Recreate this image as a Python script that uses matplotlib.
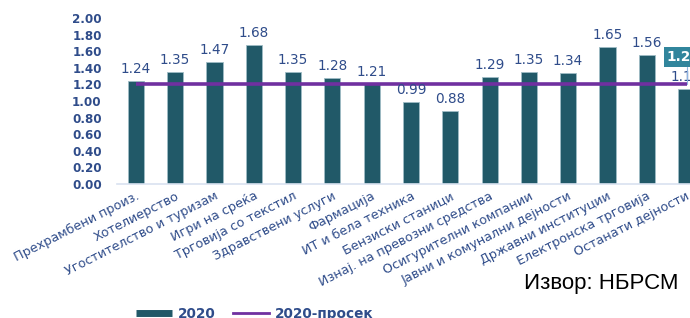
import numpy as np
import matplotlib
matplotlib.use("Agg")
import matplotlib.pyplot as plt
from matplotlib.lines import Line2D

categories = [
    "Прехрамбени произ.", "Хотелиерство", "Угостителство и туризам",
    "Игри на среќа", "Трговија со текстил", "Здравствени услуги",
    "Фармација", "ИТ и бела техника", "Бензиски станици",
    "Изнај. на превозни средства", "Осигурителни компании",
    "Јавни и комунални дејности", "Државни институции",
    "Електронска трговија", "Останати дејности",
]
values_2020 = [1.24, 1.35, 1.47, 1.68, 1.35, 1.28, 1.21, 0.99, 0.88,
               1.29, 1.35, 1.34, 1.65, 1.56, 1.15]
avg_2020 = 1.21
yticks = [0.0, 0.2, 0.4, 0.6, 0.8, 1.0, 1.2, 1.4, 1.6, 1.8, 2.0]

bar_color = "#215968"
avg_color = "#7030A0"
text_blue = "#2F4C8A"

W, H = 690, 318
fig = plt.figure(figsize=(W / 100, H / 100), dpi=100)
ax = fig.add_axes([117 / W, 1 - 184 / H, 1 - 117 / W, (184 - 18) / H])

x = np.arange(len(categories))
ax.bar(x, values_2020, width=0.41, color=bar_color,
       edgecolor="#9fbcc6", linewidth=0.6, zorder=2)
ax.plot([x[0], x[-1] + 0.03], [avg_2020, avg_2020], color=avg_color,
        lw=2.6, zorder=3, solid_capstyle="butt")

for xi, v in zip(x, values_2020):
    ax.text(xi, v + 0.06, f"{v:.2f}", ha="center", va="bottom",
            fontsize=9.8, color=text_blue, zorder=4)

# callout for the average value (cut off at the right edge)
ax.annotate(f"{avg_2020:.2f}", xy=(x[-1] + 0.03, avg_2020),
            xytext=(x[-1] - 0.5, 1.53), textcoords="data",
            ha="left", va="center", fontsize=9.8, fontweight="bold",
            color="white", annotation_clip=False,
            bbox=dict(boxstyle="square,pad=0.2", fc="#31859C", ec="none"),
            arrowprops=dict(arrowstyle="-", color="#8db3e2", lw=0.8,
                            shrinkA=0, shrinkB=0,
                            connectionstyle="angle,angleA=0,angleB=90"),
            zorder=5)

ax.set_xlim(-0.48, 14.1)
ax.set_ylim(0, 2.0)
ax.set_yticks(yticks)
ax.set_yticklabels([f"{t:.2f}" for t in yticks], fontsize=8.6,
                   fontweight="bold", color=text_blue)
ax.tick_params(axis="y", length=0, pad=11)
ax.tick_params(axis="x", length=0, pad=4)
ax.set_xticks(x)
ax.set_xticklabels(categories, rotation=27, ha="right",
                   rotation_mode="anchor", fontsize=9.2, color=text_blue)
for s in ["top", "right", "left"]:
    ax.spines[s].set_visible(False)
ax.spines["bottom"].set_color("#d9e2f0")
ax.spines["bottom"].set_linewidth(1.2)

handles = [Line2D([], [], color=bar_color, lw=5, solid_capstyle="butt"),
           Line2D([], [], color=avg_color, lw=2)]
fig.legend(handles, ["2020", "2020-просек"], loc="center left",
           bbox_to_anchor=(124 / W, 1 - 314 / H), ncol=2, frameon=False,
           handlelength=2.6, handletextpad=0.45, columnspacing=1.3,
           prop=dict(size=9.8, weight="bold"), labelcolor=text_blue)

fig.text(678 / W, 1 - 284 / H, "Извор: НБРСМ", ha="right", va="center",
         fontsize=16, family="Liberation Sans", color="black")

fig.savefig("out.png", dpi=100)
